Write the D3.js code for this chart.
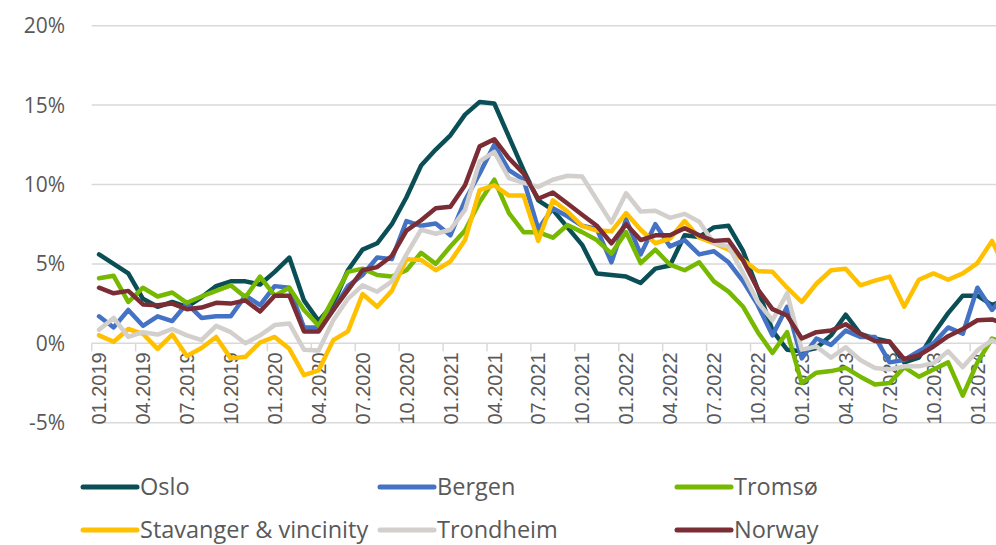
<!DOCTYPE html>
<html>
<head>
<meta charset="utf-8">
<script src="https://cdn.jsdelivr.net/npm/d3@7"></script>
<style>
  body { margin: 0; background: #fff; }
  svg { display: block; }
</style>
</head>
<body>
<div id="chart"></div>
<script>
// monthly categories, 01.2019 - 03.2024
var months = [
  "01.2019","02.2019","03.2019","04.2019","05.2019","06.2019","07.2019","08.2019","09.2019","10.2019","11.2019","12.2019",
  "01.2020","02.2020","03.2020","04.2020","05.2020","06.2020","07.2020","08.2020","09.2020","10.2020","11.2020","12.2020",
  "01.2021","02.2021","03.2021","04.2021","05.2021","06.2021","07.2021","08.2021","09.2021","10.2021","11.2021","12.2021",
  "01.2022","02.2022","03.2022","04.2022","05.2022","06.2022","07.2022","08.2022","09.2022","10.2022","11.2022","12.2022",
  "01.2023","02.2023","03.2023","04.2023","05.2023","06.2023","07.2023","08.2023","09.2023","10.2023","11.2023","12.2023",
  "01.2024","02.2024","03.2024"
];
var tickMonths = ["01.2019","04.2019","07.2019","10.2019","01.2020","04.2020","07.2020","10.2020",
  "01.2021","04.2021","07.2021","10.2021","01.2022","04.2022","07.2022","10.2022",
  "01.2023","04.2023","07.2023","10.2023","01.2024"];
var yTicks = [-5, 0, 5, 10, 15, 20];

var oslo = [5.6,5.0,4.4,2.8,2.3,2.6,2.3,2.9,3.6,3.9,3.9,3.7,
  4.5,5.4,2.7,1.4,2.5,4.6,5.9,6.3,7.5,9.2,11.2,12.2,
  13.1,14.4,15.2,15.1,13.0,10.9,9.0,8.4,7.3,6.2,4.4,4.3,
  4.2,3.8,4.7,4.9,6.8,6.7,7.3,7.4,5.8,3.4,0.8,-0.4,
  -0.5,-0.3,0.5,1.8,0.6,0.3,0.1,-1.2,-0.9,0.6,1.9,3.0,
  3.0,2.4,2.8];
var bergen = [1.7,1.0,2.1,1.1,1.7,1.4,2.5,1.6,1.7,1.7,3.0,2.4,
  3.6,3.5,1.0,1.0,2.1,3.6,4.3,5.4,5.3,7.7,7.4,7.55,
  6.8,9.0,10.7,12.5,10.9,10.3,7.2,8.5,8.0,7.4,7.2,5.1,
  7.8,5.6,7.5,6.1,6.5,5.6,5.8,5.1,3.9,2.4,0.5,2.3,
  -0.95,0.3,-0.1,0.8,0.4,0.4,-1.2,-1.05,-0.5,0.0,1.0,0.6,
  3.5,2.1,3.2];
var tromso = [4.1,4.25,2.6,3.5,2.95,3.2,2.55,2.95,3.3,3.65,2.9,4.2,
  3.0,3.5,2.1,1.1,2.8,4.5,4.7,4.3,4.2,4.6,5.7,5.0,
  6.1,7.1,8.9,10.3,8.2,7.0,7.0,6.65,7.45,7.0,6.5,5.65,
  7.0,5.05,5.9,4.95,4.6,5.1,3.9,3.25,2.3,0.7,-0.6,0.7,
  -2.5,-1.85,-1.75,-1.55,-2.1,-2.6,-2.5,-1.5,-2.1,-1.65,-1.2,-3.3,
  -1.2,0.3,0.0];
var stavanger = [0.5,0.1,0.9,0.6,-0.35,0.55,-0.8,-0.3,0.4,-0.95,-0.85,0.05,
  0.4,-0.35,-2.0,-1.7,0.2,0.75,3.1,2.3,3.3,5.3,5.25,4.6,
  5.15,6.5,9.65,9.95,9.3,9.3,6.45,9.0,8.3,7.4,7.1,7.05,
  8.2,7.15,6.3,6.6,7.7,6.65,6.3,5.9,5.25,4.55,4.5,3.5,
  2.6,3.75,4.6,4.7,3.65,3.95,4.2,2.3,4.0,4.4,4.0,4.4,
  5.05,6.45,4.5];
var trondheim = [0.85,1.6,0.4,0.7,0.55,0.9,0.5,0.2,1.1,0.7,0.0,0.5,
  1.15,1.25,-0.4,-0.45,1.45,2.8,3.65,3.25,3.9,5.6,7.15,6.9,
  7.15,8.4,11.45,12.05,10.4,10.1,9.85,10.3,10.55,10.5,9.05,7.6,
  9.45,8.3,8.35,7.9,8.15,7.65,6.3,6.1,4.4,2.6,1.45,3.15,
  -0.4,-0.2,-0.9,-0.25,-1.05,-1.55,-1.65,-1.45,-1.45,-1.25,-0.5,-1.5,
  -0.45,0.2,-0.3];
var norway = [3.5,3.15,3.3,2.45,2.4,2.5,2.15,2.25,2.55,2.5,2.7,2.0,
  3.0,3.0,0.75,0.75,2.1,3.35,4.6,4.8,5.5,7.1,7.75,8.5,
  8.6,9.95,12.4,12.85,11.65,10.7,9.1,9.5,8.8,8.1,7.4,6.3,
  7.5,6.5,6.8,6.8,7.25,6.8,6.45,6.5,5.2,3.4,2.15,1.75,
  0.3,0.7,0.8,1.2,0.6,0.15,0.1,-1.0,-0.75,-0.2,0.45,0.9,
  1.45,1.5,1.2];

var seriesNames = ["Oslo", "Bergen", "Tromsø", "Stavanger & vincinity", "Trondheim", "Norway"];
var seriesValues = [oslo, bergen, tromso, stavanger, trondheim, norway];
var colors = ["#0a4f56", "#4472c4", "#77b900", "#ffc000", "#d2cfcd", "#7b2d35"];

var width = 996, height = 545;
var svg = d3.select("#chart").append("svg")
  .attr("width", width)
  .attr("height", height);

var left = 91.7;
var step = 14.64;

var x = d3.scaleBand()
  .domain(months)
  .range([left, left + step * months.length])
  .paddingInner(0).paddingOuter(0);

var y = d3.scaleLinear()
  .domain([-5, 20])
  .range([422.7, 25.7]);

// gridlines
svg.append("g")
  .selectAll("line")
  .data(yTicks)
  .enter()
  .append("line")
  .attr("x1", left)
  .attr("x2", width)
  .attr("y1", d => y(d))
  .attr("y2", d => y(d))
  .attr("stroke", "#d9d9d9")
  .attr("stroke-width", 1.5);

// y labels
svg.append("g")
  .selectAll("text")
  .data(yTicks)
  .enter()
  .append("text")
  .attr("x", 65)
  .attr("y", d => y(d))
  .attr("dy", "0.36em")
  .attr("text-anchor", "end")
  .attr("font-family", "'Open Sans', sans-serif")
  .attr("font-size", 21)
  .attr("fill", "#595959")
  .text(d => d + "%");

// tick marks on the 0% line
svg.append("g")
  .selectAll("line")
  .data(tickMonths)
  .enter()
  .append("line")
  .attr("x1", d => x(d))
  .attr("x2", d => x(d))
  .attr("y1", y(0))
  .attr("y2", y(0) + 8)
  .attr("stroke", "#d9d9d9")
  .attr("stroke-width", 1.5);

// x labels, rotated
svg.append("g")
  .selectAll("text")
  .data(tickMonths)
  .enter()
  .append("text")
  .attr("transform", d => "translate(" + (x(d) + x.bandwidth() / 2) + "," + (y(0) + 9) + ") rotate(-90)")
  .attr("dy", "0.36em")
  .attr("text-anchor", "end")
  .attr("font-family", "'Liberation Sans', Arial, sans-serif")
  .attr("font-size", 20)
  .attr("fill", "#595959")
  .text(d => d);

// series lines
var line = d3.line()
  .x((d, i) => x(months[i]) + x.bandwidth() / 2)
  .y(d => y(d));

svg.append("g")
  .selectAll("path")
  .data(seriesValues)
  .enter()
  .append("path")
  .attr("d", d => line(d))
  .attr("fill", "none")
  .attr("stroke", (d, i) => colors[i])
  .attr("stroke-width", 4.5)
  .attr("stroke-linejoin", "round")
  .attr("stroke-linecap", "round");

// legend
var legendX = [83, 380, 677];
var legendY = [487, 530];
var legend = svg.append("g")
  .selectAll("g")
  .data(seriesNames)
  .enter()
  .append("g")
  .attr("transform", (d, i) => "translate(" + legendX[i % 3] + "," + legendY[Math.floor(i / 3)] + ")");

legend.append("line")
  .attr("x1", 0)
  .attr("x2", 54)
  .attr("stroke", (d, i) => colors[i])
  .attr("stroke-width", 5)
  .attr("stroke-linecap", "round");

legend.append("text")
  .attr("x", 57)
  .attr("dy", "0.36em")
  .attr("font-family", "'Open Sans', sans-serif")
  .attr("font-size", 23.5)
  .attr("fill", "#595959")
  .text(d => d);
</script>
</body>
</html>
